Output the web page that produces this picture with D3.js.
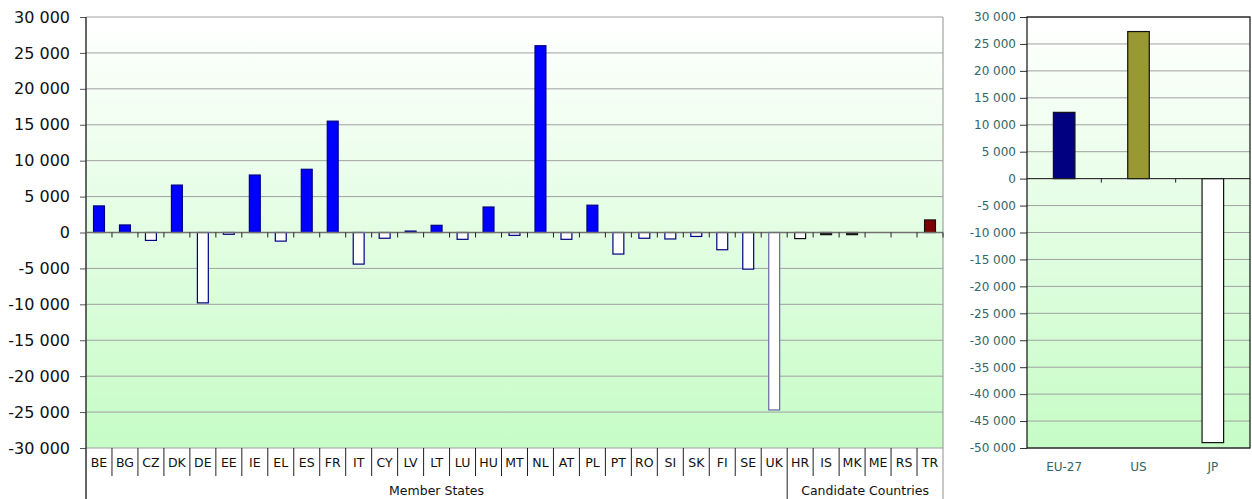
<!DOCTYPE html>
<html>
<head>
<meta charset="utf-8">
<script src="https://cdn.jsdelivr.net/npm/d3@7"></script>
<style>
  body { margin: 0; background: #fff; }
  svg { display: block; font-family: "DejaVu Sans", Verdana, sans-serif; }
</style>
</head>
<body>
<script>
// left panel: member states + candidate countries
var countries = ['BE','BG','CZ','DK','DE','EE','IE','EL','ES','FR','IT','CY','LV','LT','LU','HU','MT','NL','AT','PL','PT','RO','SI','SK','FI','SE','UK','HR','IS','MK','ME','RS','TR'];
var balance = [3700,1050,-1100,6600,-9800,-250,8000,-1200,8800,15500,-4400,-800,200,1000,-950,3550,-400,26000,-950,3800,-3000,-800,-900,-550,-2400,-5100,-24700,-850,-300,-300,0,0,1750];
var groups = [
  {name: 'Member States', from: 'BE', to: 'UK'},
  {name: 'Candidate Countries', from: 'HR', to: 'TR'}
];
var leftTicks = [-30000,-25000,-20000,-15000,-10000,-5000,0,5000,10000,15000,20000,25000,30000];

// right panel
var partners = ['EU-27','US','JP'];
var partnerBalance = [12300,27300,-49000];
var rightTicks = [-50000,-45000,-40000,-35000,-30000,-25000,-20000,-15000,-10000,-5000,0,5000,10000,15000,20000,25000,30000];

var W = 1252, H = 499;
var fmt = function (d) {
  var s = d3.format(',')(Math.abs(d)).replace(/,/g, ' ');
  return (d < 0 ? '-' : '') + s;
};

var svg = d3.select('body').append('svg')
    .attr('width', W)
    .attr('height', H);

var defs = svg.append('defs');
var grad = defs.append('linearGradient')
    .attr('id', 'bg')
    .attr('x1', 0).attr('y1', 0).attr('x2', 0).attr('y2', 1);
grad.append('stop').attr('offset', '0%').attr('stop-color', '#ffffff');
grad.append('stop').attr('offset', '100%').attr('stop-color', '#c6fcc6');

// ---------- left chart ----------
var L = {left: 86, right: 943, top: 17, bottom: 448};

var x1 = d3.scaleBand()
    .domain(countries)
    .range([L.left, L.right])
    .paddingInner(0).paddingOuter(0);

var y1 = d3.scaleLinear()
    .domain([-30000, 30000])
    .range([L.bottom, L.top]);

var g1 = svg.append('g');

g1.append('rect')
    .attr('x', L.left).attr('y', L.top)
    .attr('width', L.right - L.left).attr('height', L.bottom - L.top)
    .attr('fill', 'url(#bg)');

g1.selectAll('line.grid')
    .data(leftTicks)
    .enter()
    .append('line')
    .attr('class', 'grid')
    .attr('x1', L.left).attr('x2', L.right)
    .attr('y1', function (d) { return y1(d); })
    .attr('y2', function (d) { return y1(d); })
    .attr('stroke', '#a0a0a0')
    .attr('stroke-width', 1);

// right border of plot
g1.append('line')
    .attr('x1', L.right).attr('x2', L.right)
    .attr('y1', L.top).attr('y2', H)
    .attr('stroke', '#909090');

var yAxis1 = d3.axisLeft(y1)
    .tickValues(leftTicks)
    .tickFormat(fmt)
    .tickSize(6)
    .tickPadding(10);

var ya1 = g1.append('g')
    .attr('transform', 'translate(' + L.left + ',0)')
    .call(yAxis1);
ya1.select('.domain').remove();
ya1.selectAll('line').attr('stroke', '#555');
ya1.selectAll('text')
    .attr('font-size', '16px')
    .attr('fill', '#111')
    .attr('font-family', '"DejaVu Sans", Verdana, sans-serif');

g1.append('line')
    .attr('x1', L.left).attr('x2', L.left)
    .attr('y1', L.top).attr('y2', H)
    .attr('stroke', '#333')
    .attr('stroke-width', 1.5);

function fillFor(c, v) {
  if (c === 'TR') return '#800000';
  if (c === 'IS' || c === 'MK') return '#111';
  if (countries.indexOf(c) >= 27) return '#ffffff';
  return v > 0 ? '#0000ff' : '#ffffff';
}
function strokeFor(c, v) {
  if (countries.indexOf(c) >= 27) return '#111';
  if (c === 'UK') return '#6666aa';
  return '#000080';
}

var bw1 = x1.bandwidth() * 0.42;

g1.selectAll('rect.bar')
    .data(countries)
    .enter()
    .append('rect')
    .attr('class', 'bar')
    .attr('x', function (d) { return x1(d) + (x1.bandwidth() - bw1) / 2; })
    .attr('y', function (d, i) { return y1(Math.max(0, balance[i])); })
    .attr('width', bw1)
    .attr('height', function (d, i) { return Math.abs(y1(balance[i]) - y1(0)); })
    .attr('fill', function (d, i) { return fillFor(d, balance[i]); })
    .attr('stroke', function (d, i) { return strokeFor(d, balance[i]); })
    .attr('stroke-width', 1.2)
    .style('display', function (d, i) { return balance[i] === 0 ? 'none' : null; });

// zero line with category ticks
g1.append('line')
    .attr('x1', L.left).attr('x2', L.right)
    .attr('y1', y1(0)).attr('y2', y1(0))
    .attr('stroke', '#707070')
    .attr('stroke-width', 1.5);

g1.selectAll('line.ztick')
    .data(countries)
    .enter()
    .append('line')
    .attr('class', 'ztick')
    .attr('x1', function (d) { return x1(d) + x1.bandwidth(); })
    .attr('x2', function (d) { return x1(d) + x1.bandwidth(); })
    .attr('y1', y1(0)).attr('y2', y1(0) + 5)
    .attr('stroke', '#222');

// category label table
g1.selectAll('line.sep')
    .data(countries.slice(0, countries.length - 1))
    .enter()
    .append('line')
    .attr('class', 'sep')
    .attr('x1', function (d) { return x1(d) + x1.bandwidth(); })
    .attr('x2', function (d) { return x1(d) + x1.bandwidth(); })
    .attr('y1', L.bottom)
    .attr('y2', function (d) { return d === 'UK' ? H : L.bottom + 28; })
    .attr('stroke', '#222');

g1.selectAll('text.cat')
    .data(countries)
    .enter()
    .append('text')
    .attr('class', 'cat')
    .attr('x', function (d) { return x1(d) + x1.bandwidth() / 2; })
    .attr('y', L.bottom + 19)
    .attr('text-anchor', 'middle')
    .attr('font-size', '12.5px')
    .attr('fill', '#111')
    .text(function (d) { return d; });

g1.selectAll('text.grp')
    .data(groups)
    .enter()
    .append('text')
    .attr('class', 'grp')
    .attr('x', function (d) { return (x1(d.from) + x1(d.to) + x1.bandwidth()) / 2; })
    .attr('y', 495)
    .attr('text-anchor', 'middle')
    .attr('font-size', '12.5px')
    .attr('fill', '#111')
    .text(function (d) { return d.name; });

// ---------- right chart ----------
var R = {left: 1027, right: 1250, top: 17, bottom: 448};

var x2 = d3.scaleBand()
    .domain(partners)
    .range([R.left, R.right]);

var y2 = d3.scaleLinear()
    .domain([-50000, 30000])
    .range([R.bottom, R.top]);

var g2 = svg.append('g');

g2.append('rect')
    .attr('x', R.left).attr('y', R.top)
    .attr('width', R.right - R.left).attr('height', R.bottom - R.top)
    .attr('fill', 'url(#bg)');

g2.selectAll('line.grid')
    .data(rightTicks)
    .enter()
    .append('line')
    .attr('class', 'grid')
    .attr('x1', R.left).attr('x2', R.right)
    .attr('y1', function (d) { return y2(d); })
    .attr('y2', function (d) { return y2(d); })
    .attr('stroke', '#a0a0a0');

var yAxis2 = d3.axisLeft(y2)
    .tickValues(rightTicks)
    .tickFormat(fmt)
    .tickSize(7)
    .tickPadding(4);

var ya2 = g2.append('g')
    .attr('transform', 'translate(' + R.left + ',0)')
    .call(yAxis2);
ya2.select('.domain').remove();
ya2.selectAll('line').attr('stroke', '#333');
ya2.selectAll('text')
    .attr('font-size', '12px')
    .attr('fill', '#336666')
    .attr('font-family', '"DejaVu Sans", Verdana, sans-serif');

var bw2 = x2.bandwidth() * 0.29;
var partnerFill = ['#000080', '#999933', '#ffffff'];

g2.selectAll('rect.bar')
    .data(partners)
    .enter()
    .append('rect')
    .attr('class', 'bar')
    .attr('x', function (d) { return x2(d) + (x2.bandwidth() - bw2) / 2; })
    .attr('y', function (d, i) { return y2(Math.max(0, partnerBalance[i])); })
    .attr('width', bw2)
    .attr('height', function (d, i) { return Math.abs(y2(partnerBalance[i]) - y2(0)); })
    .attr('fill', function (d, i) { return partnerFill[i]; })
    .attr('stroke', '#111')
    .attr('stroke-width', 1.2);

g2.append('line')
    .attr('x1', R.left).attr('x2', R.right)
    .attr('y1', y2(0)).attr('y2', y2(0))
    .attr('stroke', '#222');

g2.selectAll('line.ztick')
    .data(partners.slice(0, 2))
    .enter()
    .append('line')
    .attr('x1', function (d) { return x2(d) + x2.bandwidth(); })
    .attr('x2', function (d) { return x2(d) + x2.bandwidth(); })
    .attr('y1', y2(0)).attr('y2', y2(0) + 4)
    .attr('stroke', '#222');

g2.append('rect')
    .attr('x', R.left).attr('y', R.top)
    .attr('width', R.right - R.left).attr('height', R.bottom - R.top)
    .attr('fill', 'none')
    .attr('stroke', '#111')
    .attr('stroke-width', 1.2);

g2.selectAll('text.cat')
    .data(partners)
    .enter()
    .append('text')
    .attr('x', function (d) { return x2(d) + x2.bandwidth() / 2; })
    .attr('y', 471)
    .attr('text-anchor', 'middle')
    .attr('font-size', '12px')
    .attr('fill', '#336666')
    .text(function (d) { return d; });
</script>
</body>
</html>
